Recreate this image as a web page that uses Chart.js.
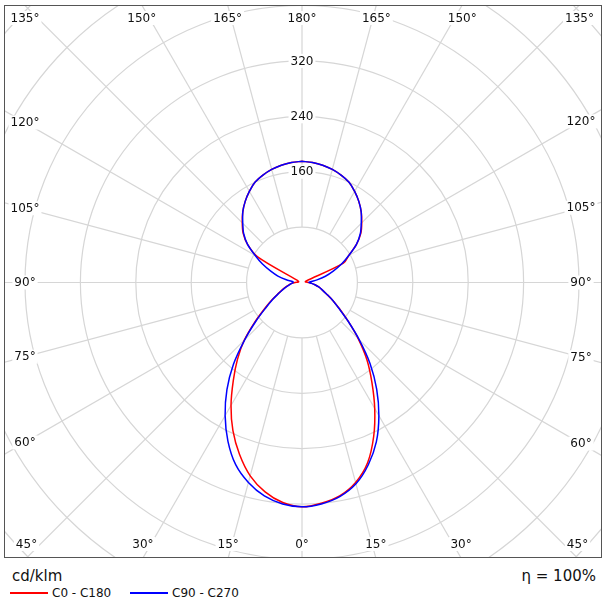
<!DOCTYPE html>
<html>
<head>
<meta charset="utf-8">
<title>Polar light distribution</title>
<script src="https://cdn.jsdelivr.net/npm/chart.js@4.4.0/dist/chart.umd.min.js"></script>
<style>
  body { margin: 0; background: #fff; font-family: "DejaVu Sans", sans-serif; color: #111; }
  #wrap { position: relative; width: 607px; height: 614px; }
  #polar { position: absolute; left: 0; top: 0; }
  .txt { position: absolute; white-space: nowrap; line-height: 1; }
  .swatch { position: absolute; height: 2px; width: 38px; }
</style>
</head>
<body>
<div id="wrap">
  <canvas id="polar" width="607" height="562"></canvas>
  <div class="txt" style="left:12px; top:569px; font-size:15px;">cd/klm</div>
  <div class="txt" style="right:11px; top:569px; font-size:15px;">η = 100%</div>
  <div class="swatch" style="left:10px; top:592px; background:#ff0000;"></div>
  <div class="txt" style="left:52px; top:587px; font-size:12px;">C0 - C180</div>
  <div class="swatch" style="left:130px; top:592px; background:#0000ff;"></div>
  <div class="txt" style="left:172px; top:587px; font-size:12px;">C90 - C270</div>
</div>
<script>
// gamma angles (deg, 0 = straight down) and intensities in cd/klm
const gammas = [0, 5, 10, 15, 20, 25, 30, 35, 40, 45, 50, 55, 60, 65, 70, 75, 80, 85, 90,
                95, 100, 105, 110, 115, 120, 125, 130, 135, 140, 145, 150, 155, 160, 165, 170, 175, 180];
const c0   = [324, 320, 313, 299, 277, 245, 210, 176, 146, 115, 87, 66, 51, 39, 31, 25, 19, 14, 9,
              6, 5, 5, 6, 66, 78, 96, 111, 122, 133, 143, 152, 160, 165, 169, 172, 174, 175];
const c180 = [324, 319, 307, 289, 264, 236, 205, 173, 145, 118, 89, 66, 50, 38, 30, 24, 19, 15, 10,
              6, 5, 5, 6, 8, 74, 96, 111, 122, 133, 143, 152, 160, 165, 169, 172, 174, 175];
const c90  = [324, 321, 314, 301, 280, 254, 222, 188, 153, 117, 87, 65, 51, 39, 31, 25, 19, 14, 10,
              12, 22, 35, 48, 63, 78, 96, 110, 121, 133, 143, 152, 160, 165, 169, 172, 174, 175];
const c270 = [324, 321, 313, 299, 280, 253, 222, 189, 154, 117, 87, 64, 49, 37, 29, 23, 18, 15, 13,
              13, 23, 36, 48, 63, 78, 96, 110, 121, 133, 143, 152, 160, 165, 169, 172, 174, 175];

// grid
const ringValues = [80, 160, 240, 320, 400, 480, 560];
const ringLabels = [160, 240, 320];
const angleTicks = [0, 15, 30, 45, 60, 75, 90, 105, 120, 135, 150, 165, 180];

const PX_PER_UNIT = 0.6925;
const CX = 302, CY = 282.5;

// polar (gamma, I) -> chart x/y; side = +1 right half-plane, -1 left
function toXY(angles, vals, side) {
  return angles.map((g, i) => ({
    x: side * vals[i] * Math.sin(g * Math.PI / 180),
    y: -vals[i] * Math.cos(g * Math.PI / 180)
  }));
}
function curve(left, right) {
  return toXY(gammas, left, -1).reverse().concat(toXY(gammas, right, 1).slice(1));
}

function labelBox(ctx, text, x, y) {
  const w = ctx.measureText(text).width + 4;
  ctx.fillStyle = '#fff';
  ctx.fillRect(x - w / 2, y - 7, w, 14);
  ctx.fillStyle = '#111';
  ctx.fillText(text, x, y + 0.5);
}

// where a gamma label goes: on the frame at top/bottom, pulled in along the ray at the sides
function labelPos(dx, dy, a, cx, cy) {
  const tx = dx > 1e-9 ? (a.right - cx) / dx : dx < -1e-9 ? (a.left - cx) / dx : Infinity;
  const ty = dy > 1e-9 ? (a.bottom - cy) / dy : dy < -1e-9 ? (a.top - cy) / dy : Infinity;
  if (ty <= tx) {
    let lx = cx + dx * ty;
    lx = Math.min(Math.max(lx, a.left + 21), a.right - 21);
    return [lx, dy > 0 ? a.bottom - 14 : a.top + 13];
  }
  const lx = dx > 0 ? a.right - 21 : a.left + 21;
  return [lx, cy + dy * (lx - cx) / dx];
}

const polarGrid = {
  id: 'polarGrid',
  beforeDatasetsDraw(chart) {
    const {ctx, chartArea: a, scales: {x, y}} = chart;
    const cx = x.getPixelForValue(0), cy = y.getPixelForValue(0);
    const k = x.getPixelForValue(1) - cx;
    ctx.save();
    ctx.beginPath();
    ctx.rect(a.left, a.top, a.right - a.left, a.bottom - a.top);
    ctx.clip();
    ctx.strokeStyle = '#d6d6d6';
    ctx.lineWidth = 1.2;
    ringValues.forEach(v => {
      ctx.beginPath();
      ctx.arc(cx, cy, v * k, 0, 2 * Math.PI);
      ctx.stroke();
    });
    const r0 = ringValues[0] * k;
    angleTicks.forEach(g => {
      const sides = (g === 0 || g === 180) ? [1] : [1, -1];
      sides.forEach(s => {
        const dx = s * Math.sin(g * Math.PI / 180), dy = Math.cos(g * Math.PI / 180);
        ctx.beginPath();
        ctx.moveTo(cx + dx * r0, cy + dy * r0);
        ctx.lineTo(cx + dx * 1000, cy + dy * 1000);
        ctx.stroke();
      });
    });
    ctx.font = '12px "DejaVu Sans"';
    ctx.textAlign = 'center';
    ctx.textBaseline = 'middle';
    ringLabels.forEach(v => labelBox(ctx, String(v), cx, cy - v * k));
    angleTicks.forEach(g => {
      const sides = (g === 0 || g === 180) ? [1] : [1, -1];
      sides.forEach(s => {
        const dx = s * Math.sin(g * Math.PI / 180), dy = Math.cos(g * Math.PI / 180);
        const [lx, ly] = labelPos(dx, dy, a, cx, cy);
        labelBox(ctx, g + '°', lx, ly);
      });
    });
    ctx.restore();
  },
  afterDraw(chart) {
    const {ctx, chartArea: a} = chart;
    ctx.save();
    ctx.strokeStyle = '#555';
    ctx.lineWidth = 1;
    ctx.strokeRect(a.left + 0.5, a.top + 0.5, a.right - a.left - 1, a.bottom - a.top - 1);
    ctx.restore();
  }
};

const area = {left: 4, top: 5, right: 602, bottom: 558};

new Chart(document.getElementById('polar'), {
  type: 'scatter',
  data: {
    datasets: [
      { label: 'C0 - C180', data: curve(c180, c0), showLine: true, borderColor: '#ff0000',
        borderWidth: 1.5, pointRadius: 0, tension: 0.3, order: 1 },
      { label: 'C90 - C270', data: curve(c270, c90), showLine: true, borderColor: '#0000ff',
        borderWidth: 1.5, pointRadius: 0, tension: 0.3, order: 0 }
    ]
  },
  options: {
    responsive: false,
    animation: false,
    events: [],
    layout: { padding: { left: area.left, top: area.top, right: 607 - area.right, bottom: 562 - area.bottom } },
    scales: {
      x: { type: 'linear', display: false,
           min: -(CX - area.left) / PX_PER_UNIT, max: (area.right - CX) / PX_PER_UNIT },
      y: { type: 'linear', display: false,
           min: -(area.bottom - CY) / PX_PER_UNIT, max: (CY - area.top) / PX_PER_UNIT }
    },
    plugins: { legend: { display: false }, tooltip: { enabled: false } }
  },
  plugins: [polarGrid]
});
</script>
</body>
</html>
